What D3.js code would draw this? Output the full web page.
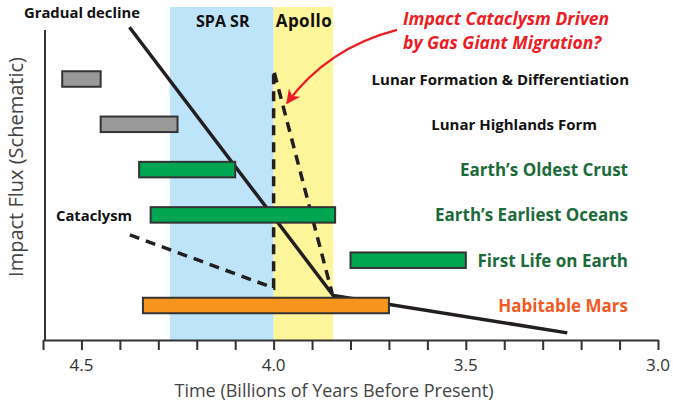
<!DOCTYPE html>
<html>
<head>
<meta charset="utf-8">
<script src="https://cdn.jsdelivr.net/npm/d3@7"></script>
<style>
  html, body { margin: 0; padding: 0; background: #fff; }
  svg { display: block; font-family: "Open Sans", "Noto Sans", sans-serif; }
</style>
</head>
<body>
<svg id="chart" width="673" height="403"></svg>
<script>
// ---------- data ----------
const rowLabels = ["Lunar Formation & Differentiation", "Lunar Highlands Form", "Earth’s Oldest Crust",
                   "Earth’s Earliest Oceans", "First Life on Earth", "Habitable Mars"];
const rowStart = [4.55, 4.45, 4.35, 4.32, 3.80, 4.34];   // Ga
const rowEnd   = [4.45, 4.25, 4.10, 3.84, 3.50, 3.70];   // Ga
const rowGroup = ["lunar", "lunar", "earth", "earth", "earth", "mars"];

const gradualAge  = [4.375, 3.845, 3.236];
const gradualFlux = [92.0, 13.1, 2.1];

const cataclysmAge  = [4.374, 4.0, 4.0, 3.848];
const cataclysmFlux = [30.9, 15.3, 79.4, 13.8];

const regionNames = ["SPA SR", "Apollo"];
const regionStart = [4.27, 4.0];
const regionEnd   = [4.0, 3.845];

const tickValuesMinor = [4.6, 4.5, 4.4, 4.3, 4.2, 4.1, 4.0, 3.9, 3.8, 3.7, 3.6, 3.5, 3.4, 3.3, 3.2, 3.1, 3.0];
const tickLabelValues = [4.5, 4.0, 3.5, 3.0];

const annotationLines = ["Impact Cataclysm Driven", "by Gas Giant Migration?"];
const arrowAge  = [3.679, 3.860, 3.965];
const arrowFlux = [91.2, 85.9, 69.7];

// ---------- styles / layout ----------
const groupFill = { lunar: "#999999", earth: "#00a651", mars: "#f7941d" };
const groupText = { lunar: "#111111", earth: "#1b6b3a", mars: "#f15a24" };
const groupSize = { lunar: 15, earth: 17, mars: 17 };
const groupWeight = { lunar: 700, earth: 700, mars: 700 };
const labelRight = [629, 597, 628, 628, 628, 628];
const regionFill = ["#bde4f8", "#fff59b"];

const svg = d3.select("#chart");
const plotTop = 7, plotBottom = 340;

const x = d3.scaleLinear().domain([4.6, 3.0]).range([43, 658]);
const flux = d3.scaleLinear().domain([0, 100]).range([340, 0]);
const row = d3.scalePoint().domain(rowLabels).range([79, 305.5]);
const barH = 15.5;

// regions
const gReg = svg.append("g");
regionNames.forEach((n, i) => {
  gReg.append("rect")
    .attr("x", x(regionStart[i])).attr("y", plotTop)
    .attr("width", x(regionEnd[i]) - x(regionStart[i]))
    .attr("height", plotBottom - plotTop)
    .attr("fill", regionFill[i]);
});
gReg.append("text").attr("x", (x(regionStart[0]) + x(regionEnd[0])) / 2 + 1).attr("y", 27)
  .attr("text-anchor", "middle").attr("font-size", 16).attr("font-weight", 700).attr("fill", "#111")
  .text(regionNames[0]);
gReg.append("text").attr("x", (x(regionStart[1]) + x(regionEnd[1])) / 2 + 0.5).attr("y", 27)
  .attr("text-anchor", "middle").attr("font-size", 17).attr("font-weight", 700).attr("fill", "#111")
  .attr("letter-spacing", 0.4)
  .text(regionNames[1]);

// x axis
const xAxis = d3.axisBottom(x).tickValues(tickValuesMinor).tickSize(10).tickSizeOuter(0).tickFormat("");
const gx = svg.append("g").attr("transform", `translate(0,${plotBottom})`).call(xAxis);
gx.select(".domain").attr("stroke", "#333").attr("stroke-width", 2);
gx.selectAll(".tick line").attr("stroke", "#333").attr("stroke-width", 2);
svg.append("g").selectAll("text").data(tickLabelValues).join("text")
  .attr("x", d => x(d)).attr("y", 371)
  .attr("text-anchor", "middle").attr("font-size", 17).attr("fill", "#333")
  .text(d => d.toFixed(1));
svg.append("text").attr("x", 334).attr("y", 397).attr("text-anchor", "middle")
  .attr("font-size", 18).attr("fill", "#444")
  .text("Time (Billions of Years Before Present)");

// y axis
svg.append("line").attr("x1", 45).attr("x2", 45).attr("y1", 30).attr("y2", plotBottom)
  .attr("stroke", "#333").attr("stroke-width", 2);
svg.append("text").attr("transform", "translate(23,167) rotate(-90)")
  .attr("text-anchor", "middle").attr("font-size", 20).attr("fill", "#444")
  .text("Impact Flux (Schematic)");

// lines
const line = d3.line().x(d => x(d[0])).y(d => flux(d[1]));
svg.append("path").datum(gradualAge.map((a, i) => [a, gradualFlux[i]]))
  .attr("d", line).attr("fill", "none").attr("stroke", "#231f20")
  .attr("stroke-width", 3.5).attr("stroke-linejoin", "round");
svg.append("path").datum(cataclysmAge.map((a, i) => [a, cataclysmFlux[i]]))
  .attr("d", line).attr("fill", "none").attr("stroke", "#231f20")
  .attr("stroke-width", 3.5).attr("stroke-dasharray", "10,7");

// bars
svg.append("g").selectAll("rect").data(rowLabels).join("rect")
  .attr("x", (d, i) => x(rowStart[i]))
  .attr("y", d => row(d) - barH / 2)
  .attr("width", (d, i) => x(rowEnd[i]) - x(rowStart[i]))
  .attr("height", barH)
  .attr("fill", (d, i) => groupFill[rowGroup[i]])
  .attr("stroke", "#333").attr("stroke-width", 2);

// row labels
svg.append("g").selectAll("text").data(rowLabels).join("text")
  .attr("x", (d, i) => labelRight[i])
  .attr("y", (d, i) => row(d) + (rowGroup[i] === "lunar" ? 5.5 : 6.5))
  .attr("text-anchor", "end")
  .attr("font-size", (d, i) => groupSize[rowGroup[i]])
  .attr("font-weight", (d, i) => groupWeight[rowGroup[i]])
  .attr("fill", (d, i) => groupText[rowGroup[i]])
  .text(d => d);

// line labels
svg.append("text").attr("x", 24).attr("y", 18).attr("font-size", 14.8).attr("font-weight", 700)
  .attr("fill", "#111").text("Gradual decline");
svg.append("text").attr("x", 56).attr("y", 221).attr("font-size", 14.8).attr("font-weight", 700)
  .attr("fill", "#111").text("Cataclysm");

// annotation
const red = "#ed1c24";
svg.append("g").selectAll("text").data(annotationLines).join("text")
  .attr("x", 403).attr("y", (d, i) => 25 + i * 23.5)
  .attr("font-size", 17.5).attr("font-weight", 700).attr("font-style", "italic")
  .attr("fill", red).text(d => d);
svg.append("defs").append("marker").attr("id", "arrow")
  .attr("viewBox", "0 0 10 10").attr("refX", 9).attr("refY", 5)
  .attr("markerWidth", 6.5).attr("markerHeight", 6.5).attr("orient", "auto")
  .attr("markerUnits", "strokeWidth")
  .append("path").attr("d", "M0,0 L10,5 L0,10 L3,5 Z").attr("fill", red);
const p = arrowAge.map((a, i) => [x(a), flux(arrowFlux[i])]);
svg.append("path")
  .attr("d", `M${p[0][0]},${p[0][1]} Q${p[1][0]},${p[1][1]} ${p[2][0]},${p[2][1]}`)
  .attr("fill", "none").attr("stroke", red).attr("stroke-width", 2.2)
  .attr("marker-end", "url(#arrow)");
</script>
</body>
</html>
